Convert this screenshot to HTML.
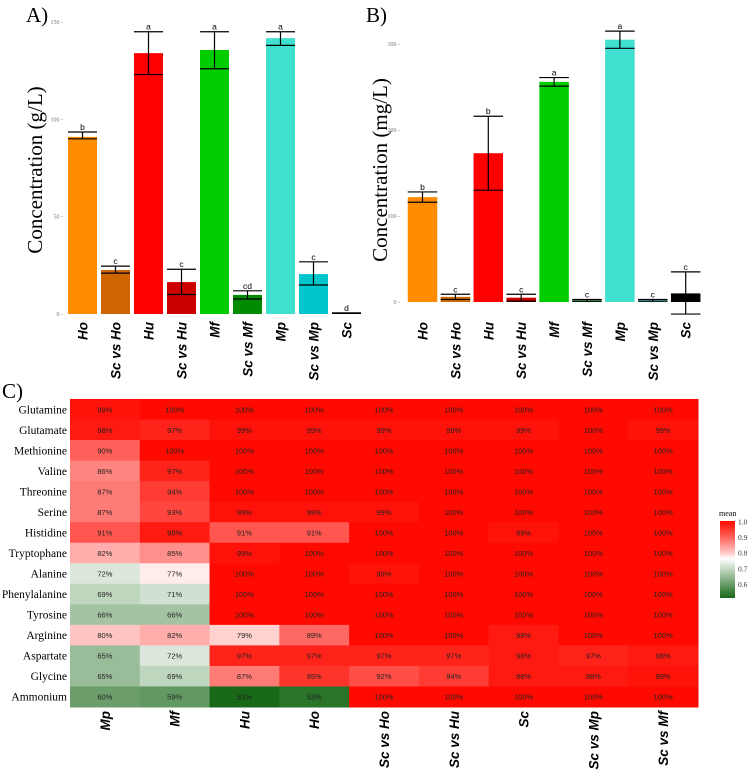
<!DOCTYPE html>
<html><head><meta charset="utf-8"><style>
body{margin:0;background:#fff;}
svg{display:block;}
</style></head><body>
<svg id="s" width="750" height="772" xmlns="http://www.w3.org/2000/svg"></svg>
<script>
const barCats=["Ho","Sc vs Ho","Hu","Sc vs Hu","Mf","Sc vs Mf","Mp","Sc vs Mp","Sc"];
const barColors=["#ff8c00","#cd6600","#ff0000","#cd0000","#00cd00","#008b00","#40e0d0","#00c5cd","#000000"];
const aVals=[91,22.6,134,16.4,135.6,9.8,141.7,20.5,0.5];
const aHi=[93.5,24.6,145,23,145,11.9,145,26.8,0.5];
const aLo=[90,21,123,10,126,7.7,138,14.9,0.5];
const aLetters=["b","c","a","c","a","cd","a","c","d"];
const aTicks=[0,50,100,150];
const bVals=[122,6,173,5,256,2,305,2,10];
const bHi=[128,9,216,9,261,3,315,3,35];
const bLo=[116,3,130,1,251,1,295,1,-14];
const bLetters=["b","c","b","c","a","c","a","c","c"];
const bTicks=[0,100,200,300];
const hmCols=["Mp","Mf","Hu","Ho","Sc vs Ho","Sc vs Hu","Sc","Sc vs Mp","Sc vs Mf"];
const hmRows=["Glutamine","Glutamate","Methionine","Valine","Threonine","Serine","Histidine","Tryptophane","Alanine","Phenylalanine","Tyrosine","Arginine","Aspartate","Glycine","Ammonium"];
const hmVals=[
[99,100,100,100,100,100,100,100,100],
[98,97,99,99,99,99,99,100,99],
[90,100,100,100,100,100,100,100,100],
[86,97,100,100,100,100,100,100,100],
[87,94,100,100,100,100,100,100,100],
[87,93,99,99,99,100,100,100,100],
[91,98,91,91,100,100,99,100,100],
[82,85,99,100,100,100,100,100,100],
[72,77,100,100,99,100,100,100,100],
[69,71,100,100,100,100,100,100,100],
[66,66,100,100,100,100,100,100,100],
[80,82,79,89,100,100,98,100,100],
[65,72,97,97,97,97,98,97,98],
[65,69,87,95,92,94,98,98,99],
[60,59,51,53,100,100,100,100,100]];
const legendTicks=[1.0,0.9,0.8,0.7,0.6];

const S=document.getElementById('s');const NS="http://www.w3.org/2000/svg";
function mk(t,a,p){const e=document.createElementNS(NS,t);for(const k in a)e.setAttribute(k,a[k]);(p||S).appendChild(e);return e;}
function txt(x,y,s,a,p){const e=mk('text',Object.assign({x:x,y:y},a),p);e.textContent=s;return e;}

function panel(name,cx0,step,bw,y0,scale,vals,hi,lo,letters,ticks,tickX,title,titleX,label,labelX,labTop){
  const g=mk('g',{});
  
  
  const Y=v=>y0-v*scale;
  ticks.forEach(t=>{const e=txt(tickX,Y(t)+2,t+" -",{'font-family':'Liberation Serif, serif','font-size':6,fill:'#777','text-anchor':'end'},g);
    });
  vals.forEach((v,i)=>{
    const cx=cx0+step*i;
    const top=Math.min(Y(v),Y(0)-1.5),h=Math.max(Y(0)-Y(v),1.5);
    const r=mk('rect',{x:cx-bw/2,y:top,width:bw,height:h,fill:barColors[i]},g);
    
    
    const eb=mk('g',{stroke:'#000','stroke-width':1.2},g);
    
    
    mk('line',{x1:cx,x2:cx,y1:Y(hi[i]),y2:Y(lo[i])},eb);
    mk('line',{x1:cx-bw/2,x2:cx+bw/2,y1:Y(hi[i]),y2:Y(hi[i])},eb);
    mk('line',{x1:cx-bw/2,x2:cx+bw/2,y1:Y(lo[i]),y2:Y(lo[i])},eb);
    const l=txt(cx,Y(hi[i])-2,letters[i],{'font-family':'Liberation Sans, sans-serif','font-size':8.5,'text-anchor':'middle'},g);
    
    const xl=txt(0,0,barCats[i],{'font-family':'Liberation Sans, sans-serif','font-size':13.5,'font-weight':'bold','font-style':'italic','text-anchor':'end',transform:`translate(${cx+5},${labTop}) rotate(-90)`},g);
    
  });
  const tt=txt(0,0,title,{'font-family':'Liberation Serif, serif','font-size':21,'text-anchor':'middle',transform:`translate(${titleX},170) rotate(-90)`},g);
  
  const pl=txt(labelX,22,label,{'font-family':'Liberation Serif, serif','font-size':21},g);
  
}
panel('panel-a-chart',82.5,33,29,314,292/150,aVals,aHi,aLo,aLetters,aTicks,63,'Concentration (g/L)',42,'A)',26,322);
panel('panel-b-chart',422.5,32.9,29.5,302,0.86,bVals,bHi,bLo,bLetters,bTicks,400,'Concentration (mg/L)',387,'B)',366,322);

// heatmap
const hx=70,hy=399,cw=(698-70)/9,rh=(707-399)/15;
function lerp(a,b,t){return a.map((v,i)=>Math.round(v+(b[i]-v)*t));}
function col(v){const low=[24,104,24],mid=[255,255,255],high=[255,10,0];const m=0.76,lo=0.51;
  let c;if(v>=m){let t=Math.min(1,(v-m)/(1-m));t=Math.pow(t,0.8);c=lerp(mid,high,t);}else c=lerp(low,mid,Math.max(0,(v-lo)/(m-lo)));return `rgb(${c})`;}
const hg=mk('g',{});


hmRows.forEach((rn,r)=>{
  const rl=txt(hx-3,hy+rh*r+rh/2+4,rn,{'font-family':'Liberation Serif, serif','font-size':11.5,'text-anchor':'end'},hg);
  
  hmVals[r].forEach((v,c)=>{
    const cell=mk('rect',{x:hx+cw*c,y:hy+rh*r,width:cw+0.5,height:rh+0.5,fill:col(v/100)},hg);
    
    const t=txt(hx+cw*c+cw/2,hy+rh*r+rh/2+3,v+"%",{'font-family':'Liberation Sans, sans-serif','font-size':7.5,'text-anchor':'middle',fill:'#222'},hg);
    
  });
});
hmCols.forEach((cn,c)=>{
  const t=txt(0,0,cn,{'font-family':'Liberation Sans, sans-serif','font-size':13.5,'font-weight':'bold','font-style':'italic','text-anchor':'end',transform:`translate(${hx+cw*c+cw/2+5},${hy+rh*15+4}) rotate(-90)`},hg);
  
});
const cl=txt(2,398,'C)',{'font-family':'Liberation Serif, serif','font-size':21});


// legend
const lg=mk('g',{});


const defs=mk('defs',{},lg);const gr=mk('linearGradient',{id:'lgr',x1:0,y1:0,x2:0,y2:1},defs);
[1.0,0.9,0.8,0.76,0.7,0.6,0.51].forEach(v=>mk('stop',{offset:(1-v)/0.49,'stop-color':col(v)},gr));
const lt=txt(719,516,'mean',{'font-family':'Liberation Serif, serif','font-size':8});
lg.appendChild(lt);
mk('rect',{x:720,y:521,width:15,height:77,fill:'url(#lgr)'},lg);
legendTicks.forEach(v=>{const y=522+(1-v)*156;const e=txt(738,y+2.5,v.toFixed(1),{'font-family':'Liberation Serif, serif','font-size':7.5,fill:'#333'},lg);
  });
</script>
</body></html>
